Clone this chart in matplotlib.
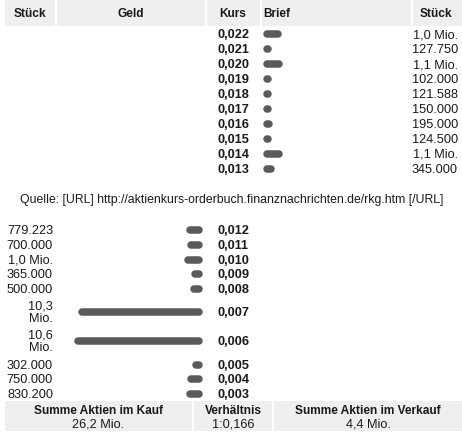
import matplotlib
matplotlib.use("Agg")
import matplotlib.pyplot as plt
from matplotlib.patches import Rectangle

# ---------------- data ----------------
headers = ["Stück", "Geld", "Kurs", "Brief", "Stück"]

ask_kurs = ["0,022", "0,021", "0,020", "0,019", "0,018",
            "0,017", "0,016", "0,015", "0,014", "0,013"]
ask_labels = ["1,0 Mio.", "127.750", "1,1 Mio.", "102.000", "121.588",
              "150.000", "195.000", "124.500", "1,1 Mio.", "345.000"]
ask_volume = [1000000, 127750, 1100000, 102000, 121588,
              150000, 195000, 124500, 1100000, 345000]

bid_kurs = ["0,012", "0,011", "0,010", "0,009", "0,008",
            "0,007", "0,006", "0,005", "0,004", "0,003"]
bid_labels = ["779.223", "700.000", "1,0 Mio.", "365.000", "500.000",
              "10,3\nMio.", "10,6\nMio.", "302.000", "750.000", "830.200"]
bid_volume = [779223, 700000, 1000000, 365000, 500000,
              10300000, 10600000, 302000, 750000, 830200]

source = "Quelle: [URL] http://aktienkurs-orderbuch.finanznachrichten.de/rkg.htm [/URL]"
summary_titles = ["Summe Aktien im Kauf", "Verhältnis", "Summe Aktien im Verkauf"]
summary_values = ["26,2 Mio.", "1:0,166", "4,4 Mio."]

# ---------------- layout ----------------
W, H = 462, 439
fig = plt.figure(figsize=(W / 100, H / 100), dpi=100)
ax = fig.add_axes([0, 0, 1, 1])
ax.set_xlim(0, W)
ax.set_ylim(H, 0)
ax.axis("off")

FONT = "Liberation Sans"
FS_HDR = 8.6
FS_NUM = 9.2
FS_SRC = 8.8
TXT = "#1a1a1a"
HDR_BG = "#efefef"
BAR = "#5a5a5a"

def t(x, y, s, ha="left", bold=False, size=FS_NUM, va="center", ls=1.0):
    ax.text(x, y, s, ha=ha, va=va, fontsize=size, family=FONT,
            fontweight="bold" if bold else "normal", color=TXT,
            linespacing=ls)

# header
cells = [(5, 55), (57, 205), (207, 260), (262, 411), (413, 462)]
for x0, x1 in cells:
    ax.add_patch(Rectangle((x0, 0), x1 - x0, 27, color=HDR_BG, lw=0))
t(30, 14, headers[0], ha="center", bold=True, size=FS_HDR)
t(131, 14, headers[1], ha="center", bold=True, size=FS_HDR)
t(233, 14, headers[2], ha="center", bold=True, size=FS_HDR)
t(263, 14, headers[3], ha="left", bold=True, size=FS_HDR)
t(452, 14, headers[4], ha="right", bold=True, size=FS_HDR)

# bar geometry
PX_PER_MIO = 11.4
BAR_H = 7.5
lw_pt = BAR_H * 72 / 100
r = BAR_H / 2

# ask rows
ask_y = [35 + 15 * i for i in range(len(ask_kurs))]
for y, k, lab, v in zip(ask_y, ask_kurs, ask_labels, ask_volume):
    t(217, y, k, bold=True)
    t(458, y, lab, ha="right")
    L = v / 1e6 * PX_PER_MIO
    x0 = 263 + r
    ax.plot([x0, x0 + L], [y, y], color=BAR, lw=lw_pt,
            solid_capstyle="round")

# source line
t(232, 200.5, source, ha="center", size=FS_SRC)

# bid rows
bid_y = [231, 246, 261, 275, 290, 313, 342, 366, 380, 395]
for y, k, lab, v in zip(bid_y, bid_kurs, bid_labels, bid_volume):
    t(217, y, k, bold=True)
    t(53, y, lab, ha="right", ls=1.1)
    L = v / 1e6 * PX_PER_MIO
    x1 = 203 - r
    ax.plot([x1 - L, x1], [y, y], color=BAR, lw=lw_pt,
            solid_capstyle="round")

# summary
scells = [(5, 192), (194, 272), (274, 462)]
for (x0, x1), tt, vv in zip(scells, summary_titles, summary_values):
    ax.add_patch(Rectangle((x0, 402), x1 - x0, 30, color=HDR_BG, lw=0))
    cx = (x0 + x1) / 2
    t(cx, 411, tt, ha="center", bold=True, size=FS_HDR)
    t(cx, 424.5, vv, ha="center")

fig.savefig("out.png", dpi=100)
